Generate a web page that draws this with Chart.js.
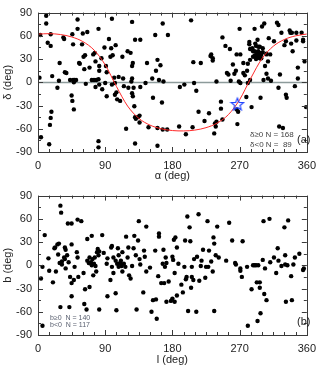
<!DOCTYPE html>
<html>
<head>
<meta charset="utf-8">
<script src="https://cdn.jsdelivr.net/npm/chart.js@4.4.1/dist/chart.umd.min.js"></script>
<style>
  body { margin: 0; background: #fff; }
  canvas { display: block; }
</style>
</head>
<body>
<canvas id="eqChart" width="323" height="183"></canvas>
<canvas id="galChart" width="323" height="184"></canvas>
<script>
// Panel (a): equatorial coordinates of the sources
const alphaDeg = [2,3,4,11,11,13,15,16,17,17,17,18,19,26,28,29,36,38,43,45,46,46,47,47,48,49,51,53,53,55,56,59,60,61,62,63,66,69,72,74,75,76,77,77,78,81,81,81,81,82,82,85,86,89,90,91,92,92,95,97,98,99,100,99,102,103,104,105,106,108,110,113,114,115,118,120,124,126,127,126,126,126,127,128,129,130,130,130,131,134,137,136,136,137,144,146,148,153,154,157,158,160,160,160,162,164,166,167,167,168,173,174,189,190,196,198,205,207,208,209,212,215,218,223,229,231,232,234,234,237,236,238,239,239,245,245,247,247,251,253,255,257,258,261,263,265,266,266,267,268,269,270,271,271,275,275,277,280,281,281,283,283,284,279,286,287,288,288,290,290,291,292,292,294,294,295,295,297,297,297,298,299,299,300,301,302,303,304,306,306,308,309,311,312,316,320,322,322,323,324,326,328,330,332,332,333,337,338,339,340,341,344,346,346,348,348,353,355,357,359,355,34,35,48,64,82,103,125,121,291,295,284,293,301,306,308,298,284,290];
const deltaDeg = [6,61,-71,86,76,51,-80,-55,-46,62,47,-38,8,-7,2,25,13,12,3,-17,62,-24,3,49,-35,3,3,81,69,25,24,49,63,33,17,35,65,19,3,36,3,38,27,-6,3,4,69,-76,-84,-3,21,31,-9,45,-1,21,13,-18,56,33,44,82,35,-3,6,-1,48,-13,-22,7,-24,33,5,-5,-60,40,38,78,25,21,5,-14,-18,-7,-31,55,-45,-79,-47,-45,55,-43,-52,-6,-1,25,-58,5,-20,61,15,29,-82,-59,3,22,-26,76,-61,1,-61,61,-57,-6,-3,-67,80,-58,26,-1,-11,-38,25,-50,-40,34,36,28,31,-53,-66,-57,1,-51,-25,-34,58,-48,47,12,10,43,2,23,11,15,36,-35,-54,-38,1,69,-1,36,25,12,9,15,-1,24,52,49,3,-19,-32,44,33,40,40,69,35,47,30,55,33,40,36,46,38,31,-20,31,36,72,44,3,76,21,11,36,5,57,36,2,53,77,74,-7,-57,10,64,-59,48,53,-16,-20,67,64,50,64,40,-5,64,54,5,19,64,53,27,-32,55,58,56,0,-2,15,-16,1,-7,50,46,43,39,39,37,27,31,29,34];

// Galactic plane traced in panel (a)
const planeAlpha = [0,15,30,45,60,75,90,105,120,135,150,165,180,195,210,225,240,255,270,285,300,315,330,345,360];
const planeDelta = [62.3,62.8,61.7,58.6,52.6,41.7,22.5,-5.3,-30.7,-46.5,-55.3,-60.0,-62.3,-62.8,-61.7,-58.6,-52.6,-41.7,-22.5,5.3,30.7,46.5,55.3,60.0,62.3];

// Blue star marker
const starAlpha = [267];
const starDelta = [-28];

// Panel (b): galactic coordinates
const lDeg = [4,6,9,14,15,20,22,23,24,26,27,28,29,30,31,30,32,32,35,36,36,37,37,39,40,41,42,43,45,45,45,45,48,49,52,53,54,53,58,61,62,63,65,66,66,68,69,69,71,72,72,73,74,75,76,77,78,79,80,81,82,82,86,88,92,93,93,97,98,99,99,101,101,104,105,104,106,107,108,108,110,111,112,113,113,115,117,118,120,121,122,124,126,128,129,131,132,134,135,136,137,141,142,143,145,145,150,152,154,157,158,159,161,162,162,165,167,168,169,170,171,172,172,175,178,180,180,181,182,183,183,184,186,186,188,192,194,196,197,198,199,200,201,203,204,205,206,206,208,209,212,213,215,216,218,219,221,224,225,227,228,229,232,234,235,236,236,238,240,242,252,256,260,264,265,271,271,273,274,280,281,286,288,290,292,293,294,295,297,297,298,301,302,303,304,306,310,311,316,319,321,322,326,330,331,331,332,334,335,339,340,342,344,350,355,356,6];
const bDeg = [-17,-2,39,9,-7,-22,22,23,-8,27,14,28,3,77,68,-54,5,1,10,23,8,-4,20,13,54,4,-54,-15,54,27,-23,-40,-19,-2,17,59,-15,10,57,-10,-50,-31,-57,34,6,3,-28,10,4,38,0,8,-13,2,10,-1,-8,17,21,13,-57,18,39,16,2,9,-40,-19,23,25,-2,-10,10,-36,-58,6,2,22,13,-2,3,6,-1,17,-8,2,-2,37,10,23,-13,-17,-1,22,38,13,-57,32,57,8,1,-35,19,11,50,-8,-3,-60,-45,19,-44,-69,-14,41,37,-23,2,20,-23,-2,10,-47,3,-21,-46,11,-43,7,33,-47,-10,36,23,-39,2,-25,-35,-2,32,-18,-15,63,-59,49,31,-29,-2,-15,-19,8,-60,11,66,-20,-1,6,20,-16,-2,57,-2,19,5,-8,36,28,-59,13,50,10,6,55,32,3,1,-4,-7,-15,31,-2,-78,-31,0,0,0,-22,-72,0,-29,-22,-62,7,57,-37,-4,-45,60,4,10,-10,22,6,-1,49,13,1,-47,0,58,-14,-45,1,10,15,-6,-4,-78];

const toPoints = (xs, ys) => xs.map((v, i) => ({ x: v, y: ys[i] }));

// Five-point outline star used as point style
function makeStar() {
    const c = document.createElement('canvas');
    c.width = 16; c.height = 16;
    const g = c.getContext('2d');
    g.strokeStyle = '#2244ff';
    g.lineWidth = 1.2;
    g.beginPath();
    for (let i = 0; i < 10; i++) {
        const r = i % 2 === 0 ? 6.5 : 2.8;
        const ang = -Math.PI / 2 + i * Math.PI / 5;
        const px = 8 + r * Math.cos(ang), py = 8.6 + r * Math.sin(ang);
        if (i === 0) g.moveTo(px, py); else g.lineTo(px, py);
    }
    g.closePath();
    g.stroke();
    return c;
}

// Frame, inward minor/major ticks, zero line and panel notes
const frameTicks = {
    id: 'frameTicks',
    beforeDatasetsDraw(chart, args, opts) {
        if (!opts.zeroLine) return;
        const { ctx, chartArea: a, scales: { y } } = chart;
        const py = Math.round(y.getPixelForValue(0)) + 0.5;
        ctx.save();
        ctx.strokeStyle = '#8d9b9b';
        ctx.lineWidth = 1.5;
        ctx.beginPath();
        ctx.moveTo(a.left, py);
        ctx.lineTo(a.right, py);
        ctx.stroke();
        ctx.restore();
    },
    afterDraw(chart, args, opts) {
        const { ctx, chartArea: a, scales: { x, y } } = chart;
        ctx.save();
        ctx.strokeStyle = '#3a3a3a';
        ctx.lineWidth = 1;
        ctx.strokeRect(Math.round(a.left) + 0.5, Math.round(a.top) + 0.5,
            Math.round(a.right - a.left), Math.round(a.bottom - a.top));
        ctx.beginPath();
        for (let v = 0; v <= 360; v += 15) {
            const px = Math.round(x.getPixelForValue(v)) + 0.5;
            const len = v % 90 === 0 ? 5 : 3;
            ctx.moveTo(px, a.bottom); ctx.lineTo(px, a.bottom - len);
            ctx.moveTo(px, a.top); ctx.lineTo(px, a.top + len);
        }
        for (let v = -90; v <= 90; v += 15) {
            const py = Math.round(y.getPixelForValue(v)) + 0.5;
            const len = v % 30 === 0 ? 5 : 3;
            ctx.moveTo(a.left, py); ctx.lineTo(a.left + len, py);
            ctx.moveTo(a.right, py); ctx.lineTo(a.right - len, py);
        }
        ctx.stroke();
        (opts.notes || []).forEach(n => {
            ctx.font = n.font;
            ctx.fillStyle = n.color;
            ctx.textBaseline = 'middle';
            ctx.fillText(n.text, n.x, n.y);
        });
        ctx.restore();
    }
};

const tickFont = { family: 'Liberation Sans, Arial, sans-serif', size: 11 };

function axes(xTitle, yTitle, xHeight) {
    return {
        x: {
            type: 'linear', min: 0, max: 360,
            grid: { display: false, drawTicks: false, tickLength: 0 }, border: { display: false },
            ticks: { stepSize: 90, padding: 7, color: '#222', font: tickFont },
            title: { display: true, text: xTitle, color: '#222', font: tickFont, padding: { top: 0, bottom: 0 } },
            afterFit: s => { s.height = xHeight; }
        },
        y: {
            type: 'linear', min: -90, max: 90,
            grid: { display: false, drawTicks: false, tickLength: 0 }, border: { display: false },
            ticks: { stepSize: 30, padding: 6, color: '#222', font: tickFont },
            title: { display: true, text: yTitle, color: '#222', font: tickFont, padding: { top: 1, bottom: 0 } },
            afterFit: s => { s.width = 38; }
        }
    };
}

new Chart(document.getElementById('eqChart'), {
    type: 'scatter',
    data: {
        datasets: [
            { data: toPoints(starAlpha, starDelta), pointStyle: makeStar(), pointRadius: 7 },
            {
                data: toPoints(planeAlpha, planeDelta), showLine: true, pointRadius: 0,
                borderColor: '#ff2a2a', borderWidth: 1, cubicInterpolationMode: 'monotone'
            },
            {
                data: toPoints(alphaDeg, deltaDeg), pointRadius: 2.2,
                backgroundColor: '#000', borderColor: '#000', borderWidth: 0
            }
        ]
    },
    options: {
        responsive: false, animation: false,
        layout: { padding: { top: 6, right: 8, left: 0, bottom: 0 } },
        plugins: {
            legend: { display: false }, tooltip: { enabled: false },
            frameTicks: {
                zeroLine: true,
                notes: [
                    { text: 'δ≥0 N = 168', x: 250, y: 135, font: '8px Liberation Sans', color: '#444' },
                    { text: 'δ<0 N =  89', x: 250, y: 145, font: '8px Liberation Sans', color: '#444' },
                    { text: '(a)', x: 297, y: 140, font: '11px Liberation Sans', color: '#222' }
                ]
            }
        },
        scales: axes('α (deg)', 'δ (deg)', 31)
    },
    plugins: [frameTicks]
});

new Chart(document.getElementById('galChart'), {
    type: 'scatter',
    data: {
        datasets: [{
            data: toPoints(lDeg, bDeg), pointRadius: 2.2,
            backgroundColor: '#000', borderColor: '#000', borderWidth: 0
        }]
    },
    options: {
        responsive: false, animation: false,
        layout: { padding: { top: 9, right: 8, left: 0, bottom: 0 } },
        plugins: {
            legend: { display: false }, tooltip: { enabled: false },
            frameTicks: {
                zeroLine: false,
                notes: [
                    { text: 'b≥0  N = 140', x: 50, y: 135, font: '7px Liberation Sans', color: '#5a6070' },
                    { text: 'b<0  N = 117', x: 50, y: 142, font: '7px Liberation Sans', color: '#5a6070' },
                    { text: '(b)', x: 297, y: 139, font: '11px Liberation Sans', color: '#222' }
                ]
            }
        },
        scales: axes('l (deg)', 'b (deg)', 32)
    },
    plugins: [frameTicks]
});
</script>
</body>
</html>
